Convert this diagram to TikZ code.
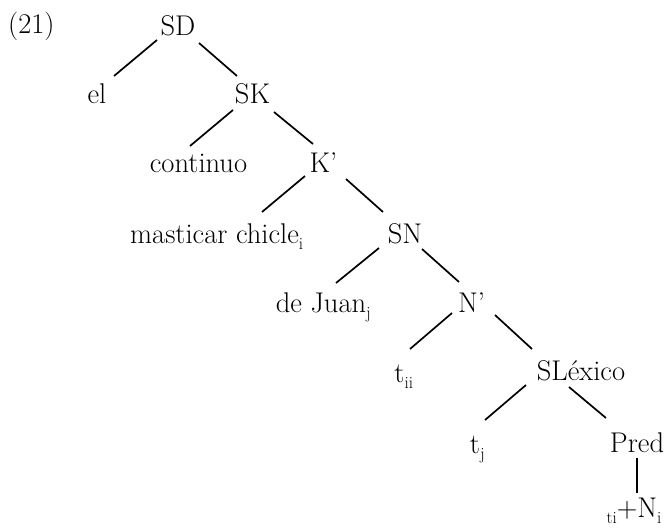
\documentclass[tikz,border=0pt]{standalone}
\newcommand\msub[1]{\rlap{\raisebox{-6.5pt}{\fontsize{17}{17}\selectfont #1}}}
\newcommand\mlsub[1]{\llap{\raisebox{-6.5pt}{\fontsize{17}{17}\selectfont #1}}}
\begin{document}
\begin{tikzpicture}[x=1pt,y=-1pt,
  lbl/.style={anchor=base, inner sep=0pt, font=\fontsize{28.5}{34}\selectfont},
  edge/.style={line width=1.7pt}]
\useasboundingbox (0,0) rectangle (668,530);
\node[lbl, anchor=base west] (ex) at (8,33) {(21)};
\node[lbl] (SD) at (178,35) {SD};
\node[lbl] (el) at (97,103) {el};
\node[lbl] (SK) at (252.5,103) {SK};
\node[lbl] (cont) at (198.5,172) {continuo};
\node[lbl] (Kb) at (323.5,172) {K'};
\node[lbl] (mast) at (214.5,243) {masticar chicle\msub{i}};
\node[lbl] (SN) at (405,243) {SN};
\node[lbl] (dj) at (321,312) {de Juan\msub{j}};
\node[lbl] (Nb) at (471.5,312) {N'};
\node[lbl] (tii) at (399.5,382) {t\msub{ii}};
\node[lbl] (SL) at (581,380) {SLéxico};
\node[lbl] (tj) at (475,453) {t\msub{j}};
\node[lbl] (Pred) at (637,452) {Pred};
\node[lbl] (PN) at (637,517) {\mlsub{ti}+N\msub{i}};
\draw[edge] ([shift={(-21,5)}]SD.base) -- ([shift={(17,-27)}]el.base);
\draw[edge] ([shift={(21,8)}]SD.base) -- ([shift={(-15.5,-27)}]SK.base);
\draw[edge] ([shift={(-19.5,7)}]SK.base) -- ([shift={(-8.5,-26)}]cont.base);
\draw[edge] ([shift={(21.5,9)}]SK.base) -- ([shift={(-10.5,-28)}]Kb.base);
\draw[edge] ([shift={(-18.5,4)}]Kb.base) -- ([shift={(47.5,-31)}]mast.base);
\draw[edge] ([shift={(22.5,7)}]Kb.base) -- ([shift={(-22,-31)}]SN.base);
\draw[edge] ([shift={(-26,5)}]SN.base) -- ([shift={(15,-29)}]dj.base);
\draw[edge] ([shift={(17,6)}]SN.base) -- ([shift={(-12.5,-30)}]Nb.base);
\draw[edge] ([shift={(-19.5,1)}]Nb.base) -- ([shift={(10.5,-33)}]tii.base);
\draw[edge] ([shift={(23.5,3)}]Nb.base) -- ([shift={(-49,-31)}]SL.base);
\draw[edge] ([shift={(-55,5)}]SL.base) -- ([shift={(10,-33)}]tj.base);
\draw[edge] ([shift={(-12,7)}]SL.base) -- ([shift={(-31,-34)}]Pred.base);
\draw[edge] ([shift={(0,6)}]Pred.base) -- ([shift={(0,-24)}]PN.base);
\end{tikzpicture}
\end{document}
